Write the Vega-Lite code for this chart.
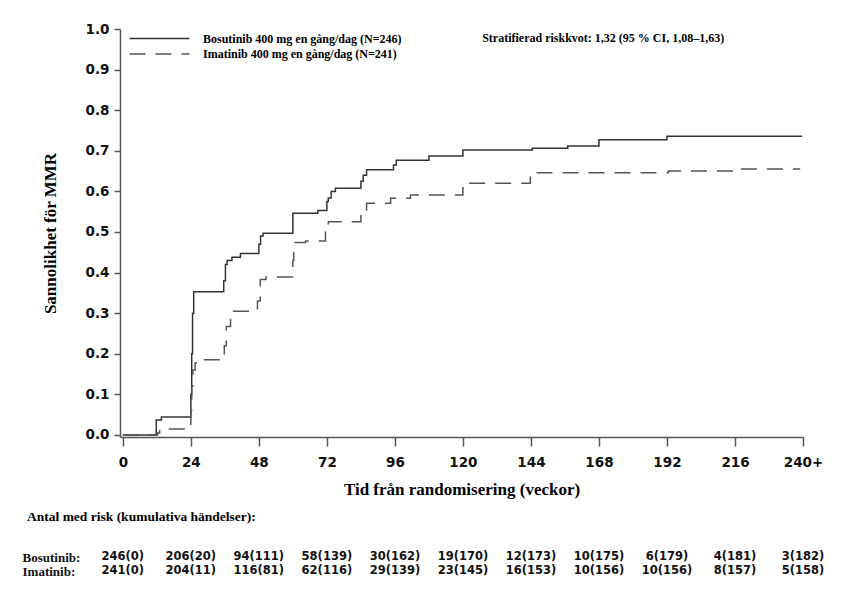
{
  "$schema": "https://vega.github.io/schema/vega-lite/v6.json",
  "background": "white",
  "padding": {"top": 22, "left": 22, "right": 5, "bottom": 5},
  "spacing": 12,
  "datasets": {
    "curves": [
      {"arm": "Bosutinib 400 mg en gång/dag (N=246)", "week": 0, "p": 0},
      {"arm": "Bosutinib 400 mg en gång/dag (N=246)", "week": 11.8, "p": 0.037},
      {"arm": "Bosutinib 400 mg en gång/dag (N=246)", "week": 13.6, "p": 0.044},
      {"arm": "Bosutinib 400 mg en gång/dag (N=246)", "week": 24.0, "p": 0.1},
      {"arm": "Bosutinib 400 mg en gång/dag (N=246)", "week": 24.3, "p": 0.2},
      {"arm": "Bosutinib 400 mg en gång/dag (N=246)", "week": 24.6, "p": 0.3},
      {"arm": "Bosutinib 400 mg en gång/dag (N=246)", "week": 25.0, "p": 0.353},
      {"arm": "Bosutinib 400 mg en gång/dag (N=246)", "week": 35.6, "p": 0.38},
      {"arm": "Bosutinib 400 mg en gång/dag (N=246)", "week": 36.2, "p": 0.42},
      {"arm": "Bosutinib 400 mg en gång/dag (N=246)", "week": 36.8, "p": 0.43},
      {"arm": "Bosutinib 400 mg en gång/dag (N=246)", "week": 38.5, "p": 0.438},
      {"arm": "Bosutinib 400 mg en gång/dag (N=246)", "week": 41.5, "p": 0.447},
      {"arm": "Bosutinib 400 mg en gång/dag (N=246)", "week": 48.0, "p": 0.47},
      {"arm": "Bosutinib 400 mg en gång/dag (N=246)", "week": 48.6, "p": 0.49},
      {"arm": "Bosutinib 400 mg en gång/dag (N=246)", "week": 49.5, "p": 0.497},
      {"arm": "Bosutinib 400 mg en gång/dag (N=246)", "week": 60.0, "p": 0.546},
      {"arm": "Bosutinib 400 mg en gång/dag (N=246)", "week": 68.8, "p": 0.553},
      {"arm": "Bosutinib 400 mg en gång/dag (N=246)", "week": 72.0, "p": 0.575},
      {"arm": "Bosutinib 400 mg en gång/dag (N=246)", "week": 72.5, "p": 0.584},
      {"arm": "Bosutinib 400 mg en gång/dag (N=246)", "week": 73.5, "p": 0.6},
      {"arm": "Bosutinib 400 mg en gång/dag (N=246)", "week": 75.0, "p": 0.608},
      {"arm": "Bosutinib 400 mg en gång/dag (N=246)", "week": 84.0, "p": 0.625},
      {"arm": "Bosutinib 400 mg en gång/dag (N=246)", "week": 84.8, "p": 0.64},
      {"arm": "Bosutinib 400 mg en gång/dag (N=246)", "week": 86.0, "p": 0.653},
      {"arm": "Bosutinib 400 mg en gång/dag (N=246)", "week": 95.5, "p": 0.665},
      {"arm": "Bosutinib 400 mg en gång/dag (N=246)", "week": 96.5, "p": 0.677},
      {"arm": "Bosutinib 400 mg en gång/dag (N=246)", "week": 108.0, "p": 0.687},
      {"arm": "Bosutinib 400 mg en gång/dag (N=246)", "week": 120.0, "p": 0.702},
      {"arm": "Bosutinib 400 mg en gång/dag (N=246)", "week": 144.5, "p": 0.706},
      {"arm": "Bosutinib 400 mg en gång/dag (N=246)", "week": 157.0, "p": 0.712},
      {"arm": "Bosutinib 400 mg en gång/dag (N=246)", "week": 168.0, "p": 0.727},
      {"arm": "Bosutinib 400 mg en gång/dag (N=246)", "week": 192.0, "p": 0.736},
      {"arm": "Bosutinib 400 mg en gång/dag (N=246)", "week": 239.7, "p": 0.736},
      {"arm": "Imatinib 400 mg en gång/dag (N=241)", "week": 0, "p": 0},
      {"arm": "Imatinib 400 mg en gång/dag (N=241)", "week": 12.3, "p": 0.005},
      {"arm": "Imatinib 400 mg en gång/dag (N=241)", "week": 13.0, "p": 0.015},
      {"arm": "Imatinib 400 mg en gång/dag (N=241)", "week": 24.0, "p": 0.06},
      {"arm": "Imatinib 400 mg en gång/dag (N=241)", "week": 24.3, "p": 0.12},
      {"arm": "Imatinib 400 mg en gång/dag (N=241)", "week": 24.7, "p": 0.16},
      {"arm": "Imatinib 400 mg en gång/dag (N=241)", "week": 25.5, "p": 0.177},
      {"arm": "Imatinib 400 mg en gång/dag (N=241)", "week": 27.0, "p": 0.185},
      {"arm": "Imatinib 400 mg en gång/dag (N=241)", "week": 35.8, "p": 0.22},
      {"arm": "Imatinib 400 mg en gång/dag (N=241)", "week": 36.5, "p": 0.267},
      {"arm": "Imatinib 400 mg en gång/dag (N=241)", "week": 38.0, "p": 0.3},
      {"arm": "Imatinib 400 mg en gång/dag (N=241)", "week": 39.0, "p": 0.305},
      {"arm": "Imatinib 400 mg en gång/dag (N=241)", "week": 47.5, "p": 0.33},
      {"arm": "Imatinib 400 mg en gång/dag (N=241)", "week": 48.5, "p": 0.383},
      {"arm": "Imatinib 400 mg en gång/dag (N=241)", "week": 50.5, "p": 0.389},
      {"arm": "Imatinib 400 mg en gång/dag (N=241)", "week": 60.0, "p": 0.43},
      {"arm": "Imatinib 400 mg en gång/dag (N=241)", "week": 60.3, "p": 0.474},
      {"arm": "Imatinib 400 mg en gång/dag (N=241)", "week": 64.5, "p": 0.478},
      {"arm": "Imatinib 400 mg en gång/dag (N=241)", "week": 71.5, "p": 0.5},
      {"arm": "Imatinib 400 mg en gång/dag (N=241)", "week": 72.5, "p": 0.525},
      {"arm": "Imatinib 400 mg en gång/dag (N=241)", "week": 84.0, "p": 0.554},
      {"arm": "Imatinib 400 mg en gång/dag (N=241)", "week": 86.0, "p": 0.571},
      {"arm": "Imatinib 400 mg en gång/dag (N=241)", "week": 94.5, "p": 0.583},
      {"arm": "Imatinib 400 mg en gång/dag (N=241)", "week": 101.5, "p": 0.591},
      {"arm": "Imatinib 400 mg en gång/dag (N=241)", "week": 120.0, "p": 0.62},
      {"arm": "Imatinib 400 mg en gång/dag (N=241)", "week": 143.8, "p": 0.646},
      {"arm": "Imatinib 400 mg en gång/dag (N=241)", "week": 192.5, "p": 0.65},
      {"arm": "Imatinib 400 mg en gång/dag (N=241)", "week": 216.0, "p": 0.655},
      {"arm": "Imatinib 400 mg en gång/dag (N=241)", "week": 239.0, "p": 0.655}
    ],
    "note": [
      {"note": "Stratifierad riskkvot: 1,32 (95 % CI, 1,08–1,63)"}
    ],
    "risk": [
      {"arm": "Bosutinib:", "week": 0, "n": "246(0)"},
      {"arm": "Bosutinib:", "week": 24, "n": "206(20)"},
      {"arm": "Bosutinib:", "week": 48, "n": "94(111)"},
      {"arm": "Bosutinib:", "week": 72, "n": "58(139)"},
      {"arm": "Bosutinib:", "week": 96, "n": "30(162)"},
      {"arm": "Bosutinib:", "week": 120, "n": "19(170)"},
      {"arm": "Bosutinib:", "week": 144, "n": "12(173)"},
      {"arm": "Bosutinib:", "week": 168, "n": "10(175)"},
      {"arm": "Bosutinib:", "week": 192, "n": "6(179)"},
      {"arm": "Bosutinib:", "week": 216, "n": "4(181)"},
      {"arm": "Bosutinib:", "week": 240, "n": "3(182)"},
      {"arm": "Imatinib:", "week": 0, "n": "241(0)"},
      {"arm": "Imatinib:", "week": 24, "n": "204(11)"},
      {"arm": "Imatinib:", "week": 48, "n": "116(81)"},
      {"arm": "Imatinib:", "week": 72, "n": "62(116)"},
      {"arm": "Imatinib:", "week": 96, "n": "29(139)"},
      {"arm": "Imatinib:", "week": 120, "n": "23(145)"},
      {"arm": "Imatinib:", "week": 144, "n": "16(153)"},
      {"arm": "Imatinib:", "week": 168, "n": "10(156)"},
      {"arm": "Imatinib:", "week": 192, "n": "10(156)"},
      {"arm": "Imatinib:", "week": 216, "n": "8(157)"},
      {"arm": "Imatinib:", "week": 240, "n": "5(158)"}
    ]
  },
  "vconcat": [
    {
      "width": 683,
      "height": 408,
      "layer": [
        {
          "data": {"name": "curves"},
          "mark": {"type": "line", "interpolate": "step-after", "strokeWidth": 1.5},
          "encoding": {
            "x": {
              "field": "week",
              "type": "quantitative",
              "scale": {"domain": [-1, 240], "nice": false, "zero": false},
              "axis": {
                "values": [0, 24, 48, 72, 96, 120, 144, 168, 192, 216, 240],
                "labelExpr": "datum.value == 240 ? '240+' : datum.label",
                "title": "Tid från randomisering (veckor)",
                "tickSize": 9,
                "labelPadding": 9,
                "titlePadding": 13,
                "labelFlush": false
              }
            },
            "y": {
              "field": "p",
              "type": "quantitative",
              "scale": {"domain": [-0.005, 1], "nice": false, "zero": false},
              "axis": {
                "values": [0, 0.1, 0.2, 0.3, 0.4, 0.5, 0.6, 0.7, 0.8, 0.9, 1],
                "format": ".1f",
                "title": "Sannolikhet för MMR",
                "tickSize": 6,
                "labelPadding": 5,
                "titlePadding": 26,
                "labelFlush": false
              }
            },
            "color": {
              "field": "arm",
              "type": "nominal",
              "scale": {"range": ["#333333", "#555555"]},
              "legend": {
                "title": null, "orient": "none", "legendX": 32.5, "legendY": 2.5,
                "symbolType": "M-5,0H5", "symbolSize": 144, "symbolStrokeWidth": 1.5,
                "labelFont": "Liberation Serif", "labelFontSize": 12, "labelFontWeight": "bold",
                "labelColor": "black", "labelOffset": 36.5, "labelLimit": 0, "rowPadding": 2.5, "padding": 0
              }
            },
            "strokeDash": {
              "field": "arm",
              "type": "nominal",
              "scale": {"range": [[1, 0], [16, 10]]},
              "legend": {
                "title": null, "orient": "none", "legendX": 32.5, "legendY": 2.5,
                "symbolType": "M-5,0H5", "symbolSize": 144, "symbolStrokeWidth": 1.5,
                "labelFont": "Liberation Serif", "labelFontSize": 12, "labelFontWeight": "bold",
                "labelColor": "black", "labelOffset": 36.5, "labelLimit": 0, "rowPadding": 2.5, "padding": 0
              }
            }
          }
        },
        {
          "data": {"name": "note"},
          "mark": {"type": "text", "align": "left", "baseline": "middle", "font": "Liberation Serif", "fontSize": 12, "fontWeight": "bold", "color": "black"},
          "encoding": {
            "x": {"datum": 126.8},
            "y": {"datum": 0.978},
            "text": {"field": "note", "type": "nominal"}
          }
        }
      ]
    },
    {
      "width": 683,
      "height": 28,
      "data": {"name": "risk"},
      "title": {
        "text": "Antal med risk (kumulativa händelser):",
        "anchor": "start", "frame": "bounds", "offset": 26.5, "dx": 5,
        "font": "Liberation Serif", "fontSize": 13.5, "fontWeight": "bold", "color": "black"
      },
      "mark": {"type": "text", "font": "DejaVu Sans", "fontSize": 11.5, "fontWeight": "bold", "color": "#111111"},
      "encoding": {
        "x": {
          "field": "week",
          "type": "quantitative",
          "scale": {"domain": [-1, 240], "nice": false, "zero": false},
          "axis": null
        },
        "y": {
          "field": "arm",
          "type": "nominal",
          "sort": ["Bosutinib:", "Imatinib:"],
          "axis": {
            "title": null, "domain": false, "ticks": false,
            "labelAlign": "left", "labelPadding": 98,
            "labelFont": "Liberation Serif", "labelFontSize": 13, "labelFontWeight": "bold"
          }
        },
        "text": {"field": "n", "type": "nominal"}
      }
    }
  ],
  "config": {
    "view": {"stroke": null},
    "axis": {
      "grid": false,
      "domainColor": "#555555",
      "domainWidth": 1.5,
      "tickColor": "#555555",
      "tickWidth": 1.5,
      "labelFont": "DejaVu Sans",
      "labelFontSize": 13.5,
      "labelFontWeight": "bold",
      "labelColor": "#111111",
      "titleFont": "Liberation Serif",
      "titleFontSize": 17,
      "titleFontWeight": "bold",
      "titleColor": "black"
    }
  }
}
